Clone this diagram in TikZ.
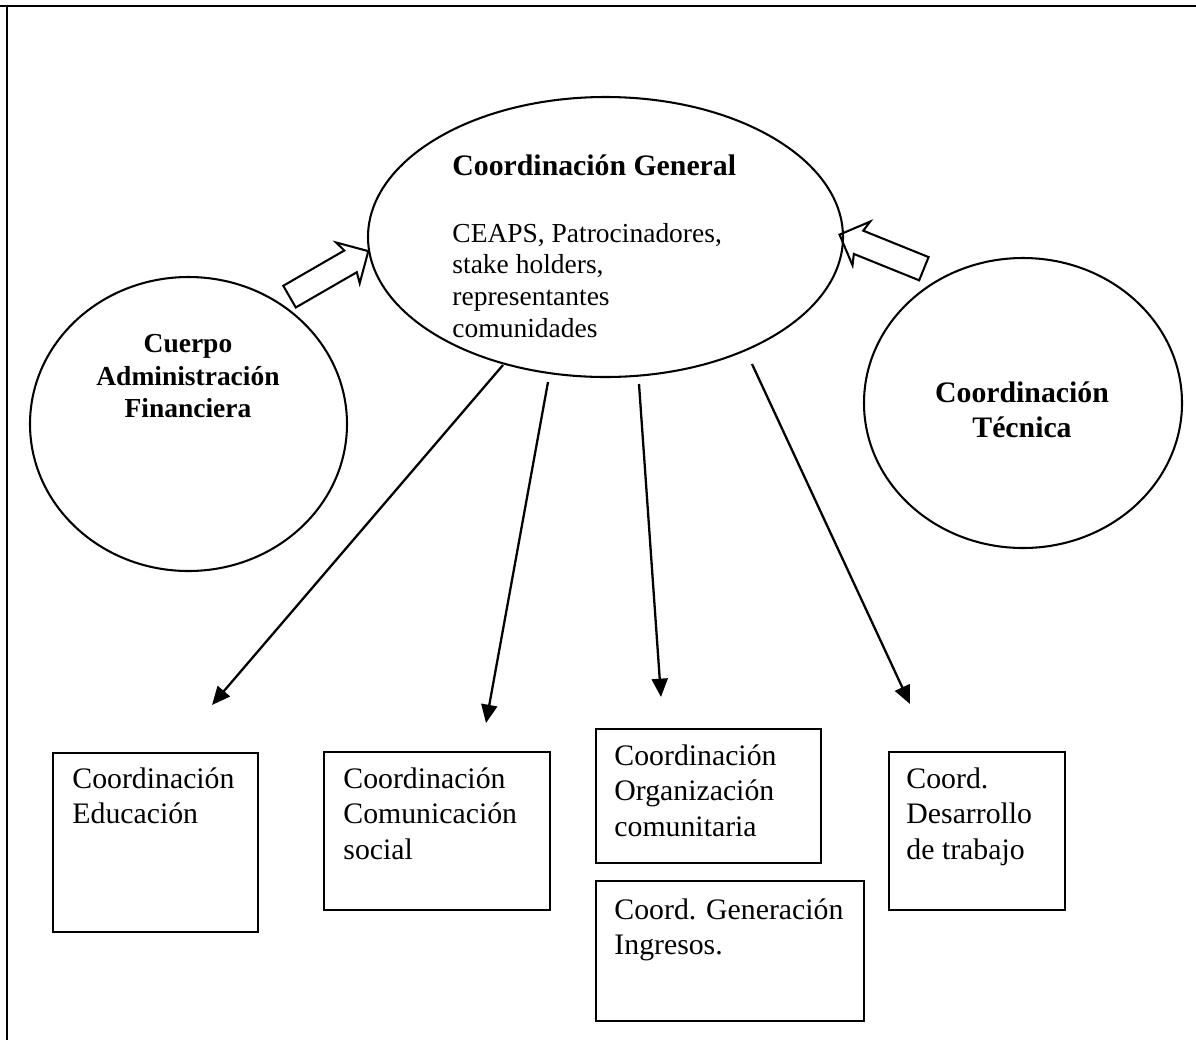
\documentclass[tikz,border=0pt]{standalone}
\usepackage{fontspec}
\setmainfont{Liberation Serif}
\usetikzlibrary{positioning,shapes.geometric,shapes.arrows,arrows.meta}

\newdimen\pxu
\pxu=0.4367pt

\tikzset{
  orgline/.style={draw, line width=0.9pt, inner sep=0pt},
  orgbox/.style={orgline, rectangle, anchor=north west},
  orgoval/.style={orgline, ellipse},
  boxtext/.style={anchor=north west, align=left, inner sep=0pt, font=\fontsize{13}{15.5}\selectfont},
  hollow/.style={orgline, single arrow, inner xsep=0pt, inner ysep=11.5*\pxu,
    minimum height=91*\pxu, minimum width=45*\pxu,
    single arrow head extend=11*\pxu, single arrow head indent=3*\pxu},
  link/.style={line width=1pt, -{Triangle[length=8pt,width=7pt]}}
}

\begin{document}
\begin{tikzpicture}[x=\pxu, y=-\pxu]
\useasboundingbox (0,0) rectangle (1196,1040);

% page frame
\draw[line width=1pt] (0,6) -- (1196,6);
\draw[line width=1.2pt] (7,6) -- (7,1040);

% ovals
\node[orgoval, minimum width=475*\pxu, minimum height=280*\pxu] (general) at (605.5,237) {};
\node[anchor=north west, align=left, inner sep=0pt, font=\fontsize{12}{13.8}\selectfont] (generalText) at (452,154)
  {{\fontsize{13}{15}\selectfont\bfseries Coordinación General}\\[15.5pt]CEAPS, Patrocinadores,\\stake holders,\\representantes\\comunidades};

\node[orgoval, minimum width=317*\pxu, minimum height=294*\pxu] (finance) at (188.5,424) {};
\node[anchor=north, align=center, inner sep=0pt, font=\fontsize{12}{14.2}\selectfont\bfseries] (financeText) at (188,334)
  {Cuerpo\\Administración\\Financiera};

\node[orgoval, minimum width=318*\pxu, minimum height=290*\pxu] (technical) at (1023,403) {};
\node[anchor=north, align=center, inner sep=0pt, font=\fontsize{13}{15.3}\selectfont\bfseries] (technicalText) at (1022,381)
  {Coordinación\\Técnica};

% hollow arrows into the general coordination
\node[hollow, rotate=30] (financeArrow) at (323.5,277) {};
\node[hollow, rotate=158] (technicalArrow) at (887.5,254) {};

% boxes
\node[orgbox, minimum width=205*\pxu, minimum height=179*\pxu] (education) at (52,752) {};
\node[boxtext] (educationText) at ([shift={(20,15)}]education.north west) {Coordinación\\Educación};

\node[orgbox, minimum width=226*\pxu, minimum height=158*\pxu] (communication) at (323,751) {};
\node[boxtext] (communicationText) at ([shift={(20,16)}]communication.north west) {Coordinación\\Comunicación\\social};

\node[orgbox, minimum width=225*\pxu, minimum height=134*\pxu] (community) at (595,728) {};
\node[boxtext] (communityText) at ([shift={(19,16)}]community.north west) {Coordinación\\Organización\\comunitaria};

\node[orgbox, minimum width=268*\pxu, minimum height=140*\pxu] (income) at (595,880) {};
\node[boxtext] (incomeText) at ([shift={(19,18)}]income.north west) {Coord. Generación\\Ingresos.};

\node[orgbox, minimum width=176*\pxu, minimum height=158*\pxu] (work) at (888,751) {};
\node[boxtext] (workText) at ([shift={(18,16)}]work.north west) {Coord.\\Desarrollo\\de trabajo};

% arrows down to the boxes
\coordinate (s1) at (503,365);  \coordinate (t1) at (212,705);
\coordinate (s2) at (548,382);  \coordinate (t2) at (486,723);
\coordinate (s3) at (639,384);  \coordinate (t3) at (661,697);
\coordinate (s4) at (752,364);  \coordinate (t4) at (910,704);
\draw[link] (s1) -- (t1);
\draw[link] (s2) -- (t2);
\draw[link] (s3) -- (t3);
\draw[link] (s4) -- (t4);

\end{tikzpicture}
\end{document}
